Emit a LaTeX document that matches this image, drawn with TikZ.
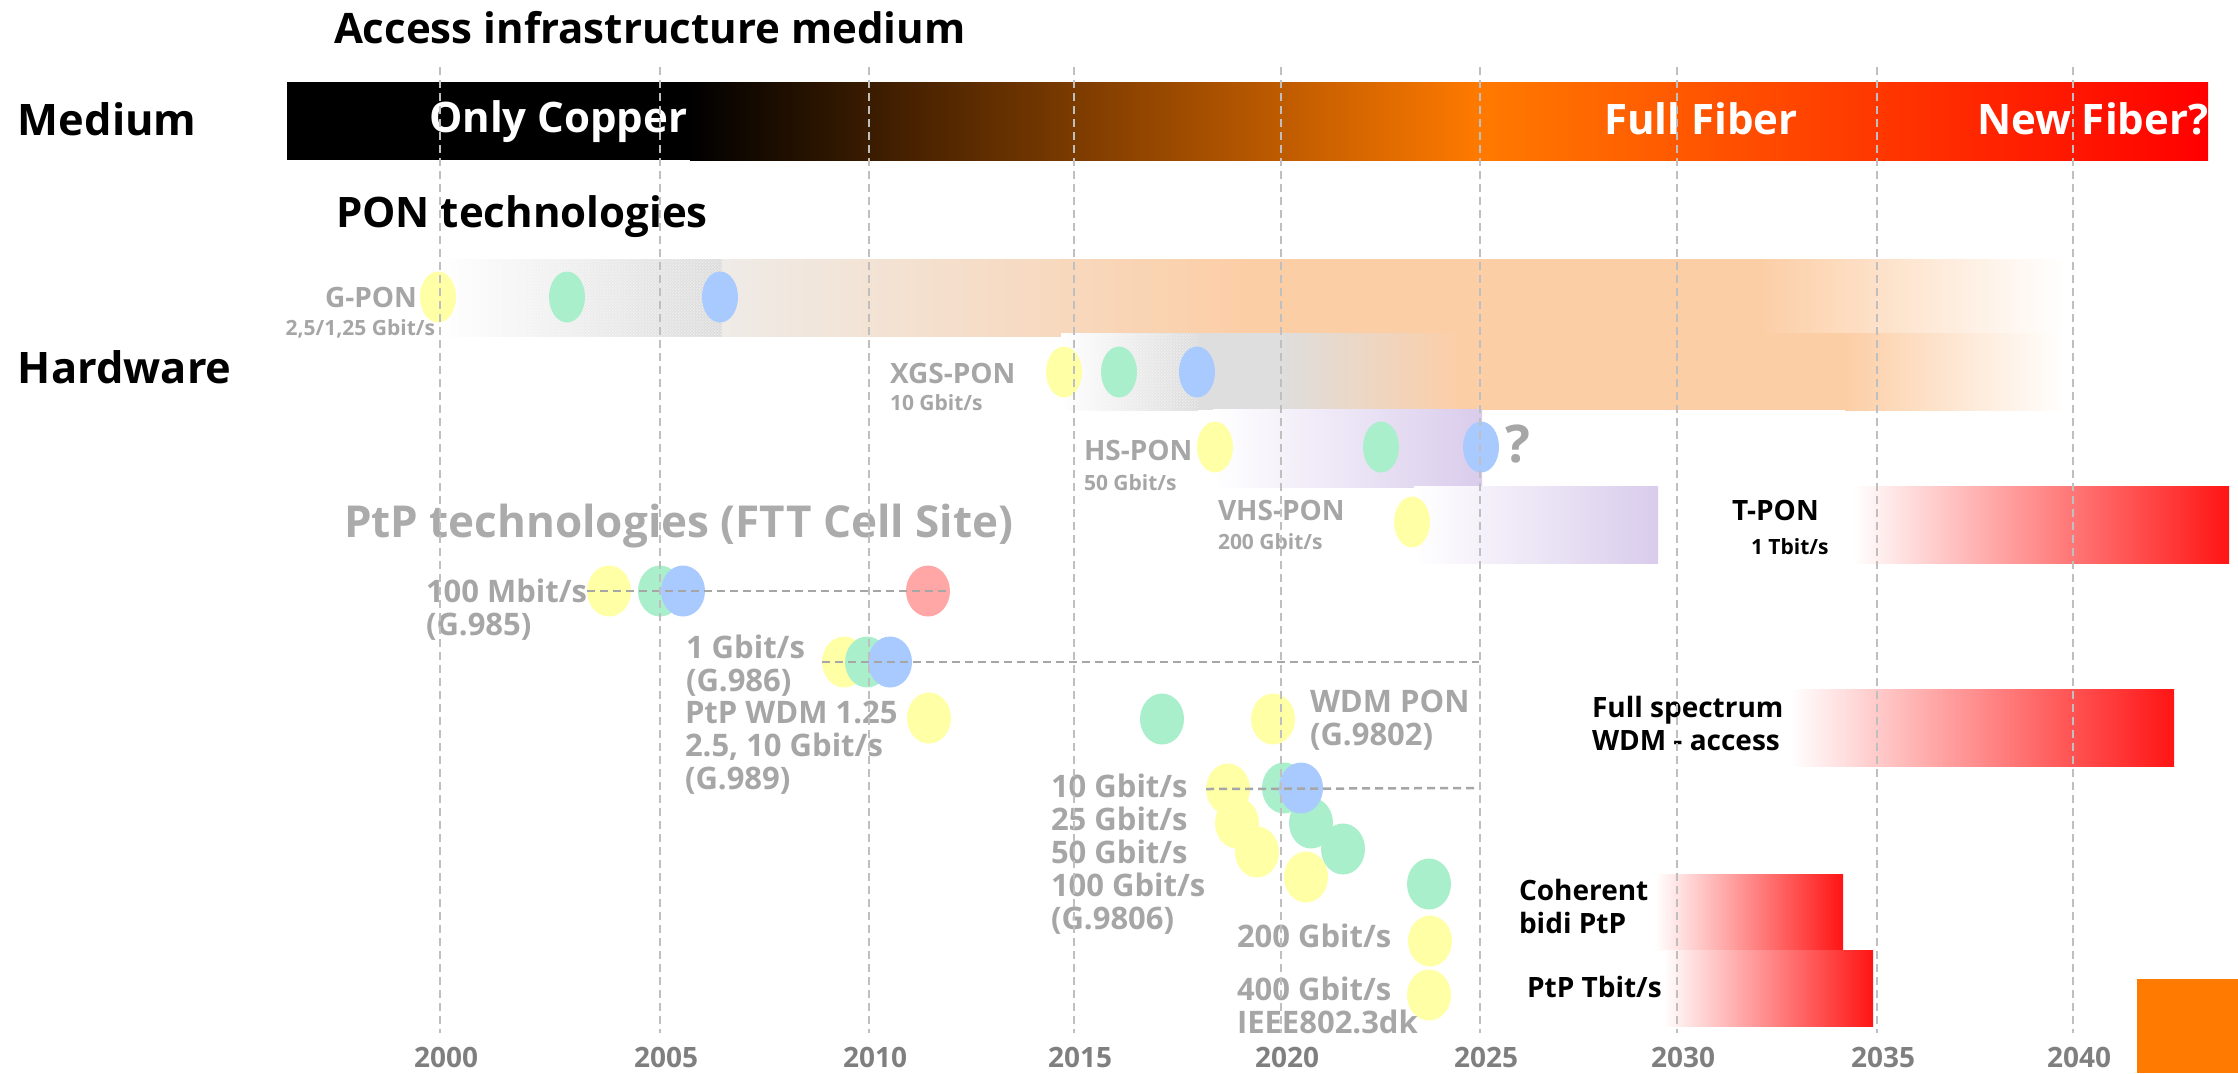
\documentclass[tikz,border=0pt]{standalone}
\usepackage{fontspec}
\setmainfont{Open Sans}
\usetikzlibrary{shapes.geometric,patterns}

\definecolor{lblgray}{HTML}{A6A6A6}
\definecolor{titlegray}{HTML}{ABABAB}
\definecolor{yeargray}{HTML}{7F7F7F}
\definecolor{gridgray}{HTML}{BFBFBF}
\definecolor{dotyellow}{HTML}{FFFFA6}
\definecolor{dotgreen}{HTML}{AAEFCB}
\definecolor{dotblue}{HTML}{A9CAFF}
\definecolor{dotred}{HTML}{FFA7A7}
\definecolor{peach}{HTML}{FCCEA6}
\definecolor{lavender}{HTML}{D9CCEC}
\definecolor{fibreorange}{HTML}{FF7A00}
\definecolor{warmgray}{HTML}{EFEBE7}
\definecolor{ltgray}{HTML}{DEDEDE}
\definecolor{barred}{HTML}{FF1414}

\newcommand\fsz[2]{\fontsize{#1pt}{#2pt}\selectfont}

% fine dither texture for the early part of the PON bars
\pgfdeclarepatternformonly{finechecks}{\pgfpointorigin}{\pgfqpoint{1.6pt}{1.6pt}}{\pgfqpoint{1.6pt}{1.6pt}}{%
  \pgfpathrectangle{\pgfpointorigin}{\pgfqpoint{0.8pt}{0.8pt}}%
  \pgfpathrectangle{\pgfqpoint{0.8pt}{0.8pt}}{\pgfqpoint{0.8pt}{0.8pt}}%
  \pgfusepath{fill}}

\begin{document}
\begin{tikzpicture}[x=0.5pt,y=-0.5pt,
  every node/.style={inner sep=0pt,outer sep=0pt},
  head/.style={font=\bfseries\fsz{21}{21},anchor=base west},
  side/.style={font=\bfseries\fsz{21.7}{21.7},anchor=base west},
  onbar/.style={font=\bfseries\fsz{21}{21},text=white,anchor=base west},
  pon/.style={font=\bfseries\fsz{14}{14},text=lblgray,anchor=base west},
  rate/.style={font=\bfseries\fsz{10.5}{10.5},text=lblgray,anchor=base west},
  ptp/.style={font=\bfseries\fsz{15.5}{16.5},text=lblgray,anchor=base west,align=left},
  tech/.style={font=\bfseries\fsz{14}{16.5},text=black,anchor=base west,align=left},
  year/.style={font=\bfseries\fsz{14}{14},text=yeargray,anchor=base},
  pondot/.style={ellipse,minimum width=18pt,minimum height=25.5pt,fill=#1},
  ptpdot/.style={ellipse,minimum width=22pt,minimum height=25.5pt,fill=#1},
  gridline/.style={draw=gridgray,line width=0.75pt,dash pattern=on 4pt off 2.5pt},
  rowline/.style={draw=lblgray,line width=1.25pt,dash pattern=on 4pt off 2.5pt},
  texture/.style={pattern=finechecks,pattern color=white,fill opacity=0.5}]

\useasboundingbox (0,0) rectangle (2238,1073);
\fill[white] (0,0) rectangle (2238,1073);

% ---------- medium bar ----------
\fill[black] (287,82) rectangle (691,160);
\shade[left color=black,right color=fibreorange] (690,82) rectangle (1481,160);
\shade[left color=fibreorange,right color=red] (1480,82) rectangle (2208,160);

% ---------- PON bars ----------
% G-PON
\shade[left color=white,right color=gray!30] (439,259) rectangle (722,336);
\fill[texture] (439,259) rectangle (722,336);
\shade[left color=warmgray,right color=peach] (722,259) rectangle (1250,336);
\fill[peach] (1249,259) rectangle (1761,336);
\shade[left color=peach,right color=white] (1760,259) rectangle (2065,336);
% XGS-PON
\shade[left color=white,right color=gray!30] (1061,333) rectangle (1198,410);
\fill[texture] (1061,333) rectangle (1198,410);
\fill[ltgray] (1198,333) rectangle (1281,410);
\shade[left color=ltgray,right color=peach] (1280,333) rectangle (1461,410);
\fill[peach] (1460,333) rectangle (1846,410);
\shade[left color=peach,right color=white] (1845,333) rectangle (2065,410);
% HS-PON, VHS-PON
\shade[left color=white,right color=lavender] (1213,409) rectangle (1482,487);
\shade[left color=white,right color=lavender] (1414,486) rectangle (1658,563);
% T-PON and future PtP/WDM bars
\shade[left color=white,right color=barred] (1853,486) rectangle (2229,563);
\shade[left color=white,right color=barred] (1790,689) rectangle (2174,766);
\shade[left color=white,right color=barred] (1655,874) rectangle (1843,950);
\shade[left color=white,right color=barred] (1663,950) rectangle (1873,1026);
\fill[fibreorange] (2137,979) rectangle (2238,1073);

% ---------- PON milestones ----------
\node[pondot=dotyellow] (gy) at (438,297) {};
\node[pondot=dotgreen]  (gg) at (567,297) {};
\node[pondot=dotblue]   (gb) at (720,297) {};
\node[pondot=dotyellow] (xy) at (1064,372) {};
\node[pondot=dotgreen]  (xg) at (1119,372) {};
\node[pondot=dotblue]   (xb) at (1197,372) {};
\node[pondot=dotyellow] (hy) at (1215,447) {};
\node[pondot=dotgreen]  (hg) at (1381,447) {};
\node[pondot=dotblue]   (hb) at (1481,447) {};
\node[pondot=dotyellow] (vy) at (1412,522) {};

% ---------- PtP milestones ----------
\node[ptpdot=dotyellow] (ay) at (609,591) {};
\node[ptpdot=dotgreen]  (ag) at (660,591) {};
\node[ptpdot=dotblue]   (ab) at (683,591) {};
\node[ptpdot=dotred]    (ar) at (928,591) {};
\node[ptpdot=dotyellow] (by) at (844,662) {};
\node[ptpdot=dotgreen]  (bg) at (867,662) {};
\node[ptpdot=dotblue]   (bb) at (890,662) {};
\node[ptpdot=dotyellow] (cy) at (929,718) {};
\node[ptpdot=dotgreen]  (wg) at (1162,719) {};
\node[ptpdot=dotyellow] (wy) at (1273,719) {};
\node[ptpdot=dotyellow] (dy1) at (1228,789) {};
\node[ptpdot=dotyellow] (dy2) at (1237,823) {};
\node[ptpdot=dotyellow] (dy3) at (1257,852) {};
\node[ptpdot=dotyellow] (dy4) at (1306,877) {};
\node[ptpdot=dotgreen]  (dg3) at (1343,849) {};
\node[ptpdot=dotgreen]  (dg2) at (1311,823) {};
\node[ptpdot=dotgreen]  (dg1) at (1284,788) {};
\node[ptpdot=dotblue]   (db1) at (1301,788) {};
\node[ptpdot=dotgreen]  (eg) at (1429,884) {};
\node[ptpdot=dotyellow] (ey1) at (1430,941) {};
\node[ptpdot=dotyellow] (ey2) at (1429,995) {};

\coordinate (bend) at (1479,662);
\coordinate (dend) at (1478,788);
\draw[rowline] (ay.west) -- (ar.east);
\draw[rowline] (by.west) -- (bend);
\draw[rowline] (dy1.west) -- (dend);

% ---------- headings ----------
\node[head] (title) at (334,43) {Access infrastructure medium};
\node[side] (medium) at (18,135) {Medium};
\node[side] (hardware) at (18,383) {Hardware};
\node[onbar] (copper) at (429,132) {Only Copper};
\node[onbar] (fullfiber) at (1604,134) {Full Fiber};
\node[onbar] (newfiber) at (1977,134) {New Fiber?};
\node[head] (pontitle) at (336,227) {PON technologies};
\node[font=\bfseries\fsz{22}{22},text=titlegray,anchor=base west] (ptptitle) at (344,537) {PtP technologies (FTT Cell Site)};

% ---------- PON labels ----------
\node[pon,anchor=base east] (lgpon) at (417,307) {G-PON};
\node[rate,anchor=base east] (rgpon) at (435,335) {2,5/1,25 Gbit/s};
\node[pon] (lxgs) at (890,383) {XGS-PON};
\node[rate] (rxgs) at (890,410) {10 Gbit/s};
\node[pon] (lhs) at (1084,460) {HS-PON};
\node[rate] (rhs) at (1084,490) {50 Gbit/s};
\node[font=\bfseries\fsz{26}{26},text=lblgray,anchor=base west] (qmark) at (1505,462) {?};
\node[pon] (lvhs) at (1218,520) {VHS-PON};
\node[rate] (rvhs) at (1218,549) {200 Gbit/s};
\node[pon,text=black] (ltpon) at (1732,520) {T-PON};
\node[rate,text=black] (rtpon) at (1751,554) {1 Tbit/s};

% ---------- PtP labels (placed at the baseline of their last line) ----------
\node[ptp] (l985) at (426,635) {100 Mbit/s\\(G.985)};
\node[ptp] (l986) at (686,691) {1 Gbit/s\\(G.986)};
\node[ptp] (l989) at (685,789) {PtP WDM 1.25\\2.5, 10 Gbit/s\\(G.989)};
\node[ptp] (l9802) at (1310,745) {WDM PON\\(G.9802)};
\node[ptp] (l9806) at (1051,929) {10 Gbit/s\\25 Gbit/s\\50 Gbit/s\\100 Gbit/s\\(G.9806)};
\node[ptp] (l200) at (1237,947) {200 Gbit/s};
\node[ptp] (l400) at (1237,1033) {400 Gbit/s\\IEEE802.3dk};
\node[tech] (lfull) at (1592,750) {Full spectrum\\WDM - access};
\node[tech] (lcoh) at (1519,933) {Coherent\\bidi PtP};
\node[tech] (ltbit) at (1527,997) {PtP Tbit/s};

% ---------- time axis ----------
\foreach \yr/\xx in {2000/440,2005/660,2010/869,2015/1074,2020/1281,2025/1480,2030/1677,2035/1877,2040/2073}{
  \draw[gridline] (\xx,67) -- (\xx,1033);
  \node[year] (y\yr) at (\xx+6,1067) {\yr};
}
\end{tikzpicture}
\end{document}
